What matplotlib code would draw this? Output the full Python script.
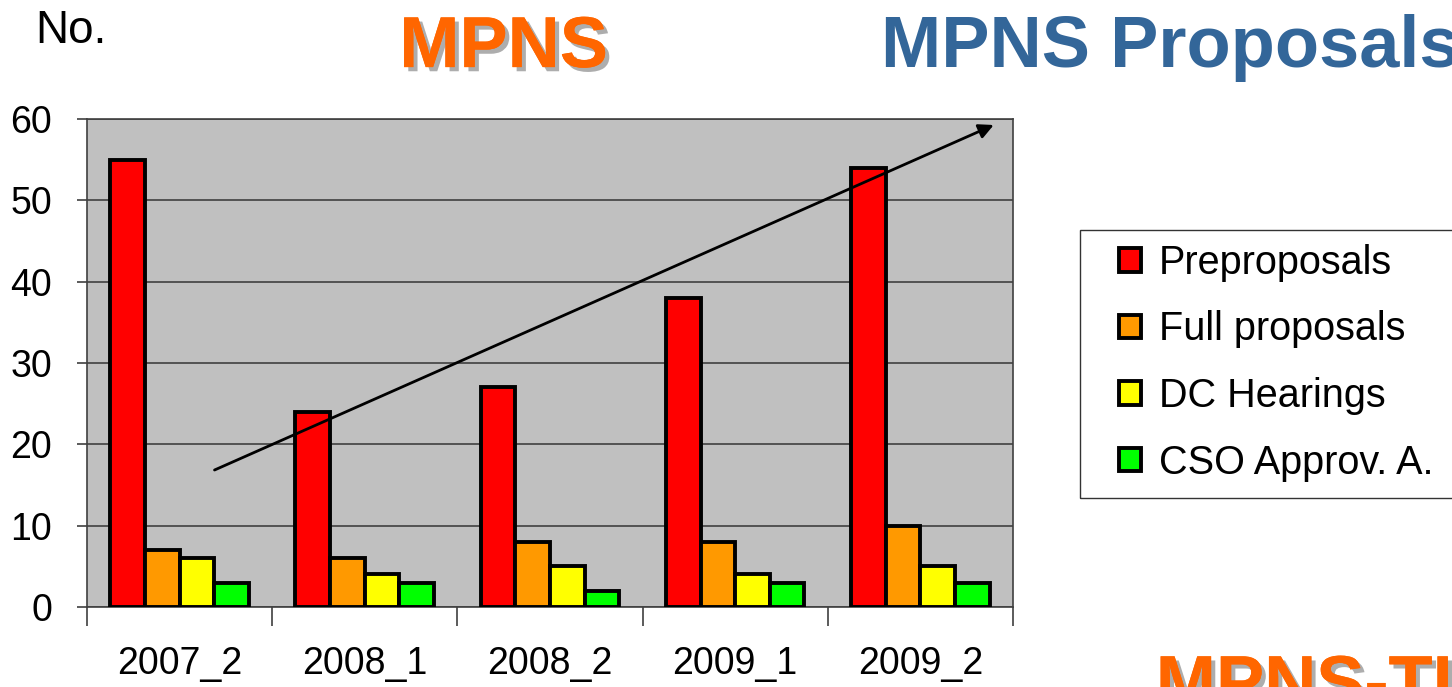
import matplotlib.pyplot as plt
import matplotlib.patheffects as pe
from matplotlib.patches import Rectangle
import numpy as np

plt.rcParams['font.family'] = ['Liberation Sans', 'DejaVu Sans']

# data
periods = ['2007_2', '2008_1', '2008_2', '2009_1', '2009_2']
preproposals = [55, 24, 27, 38, 54]
full_proposals = [7, 6, 8, 8, 10]
dc_hearings = [6, 4, 5, 4, 5]
cso_approv = [3, 3, 2, 3, 3]

series = [
    ('Preproposals', preproposals, '#FF0000'),
    ('Full proposals', full_proposals, '#FF9900'),
    ('DC Hearings', dc_hearings, '#FFFF00'),
    ('CSO Approv. A.', cso_approv, '#00FF00'),
]

# trend arrow (start/end in data coords)
trend_start = (0.175, 16.7)
trend_end = (4.41, 59.4)

fig = plt.figure(figsize=(14.52, 6.87), dpi=100)
ax = fig.add_axes([0.0599, 0.1165, 0.6377, 0.7103])
ax.set_facecolor('#C0C0C0')

x = np.arange(len(periods))
w = 0.187
for i, (name, vals, col) in enumerate(series):
    ax.bar(x + (i - 1.5) * w, vals, w, color=col, edgecolor='black',
           linewidth=2.8, label=name, zorder=3)

ax.set_xlim(-0.5, len(periods) - 0.5)
ax.set_ylim(0, 60)
ax.set_yticks(range(0, 61, 10))
ax.yaxis.grid(True, color='#404040', linewidth=1.2, zorder=1)
ax.tick_params(axis='y', labelsize=27, length=7, width=1.2, pad=18, color='#404040')

# category boundaries as major ticks, labels at centres
ax.set_xticks(np.arange(-0.5, len(periods), 1.0))
ax.set_xticklabels([])
ax.set_xticks(x, minor=True)
ax.set_xticklabels(periods, minor=True, fontsize=27)
ax.tick_params(axis='x', which='major', length=14, width=1.2, color='#404040')
ax.tick_params(axis='x', which='minor', length=0, pad=28)

for s in ax.spines.values():
    s.set_color('#404040')
    s.set_linewidth(1.2)

ax.annotate('', xy=trend_end, xytext=trend_start,
            arrowprops=dict(arrowstyle='-|>', color='black', lw=2,
                            mutation_scale=22), zorder=5)

shadow = [pe.withSimplePatchShadow(offset=(3, -3), shadow_rgbFace='#999999', alpha=0.8),
          pe.Normal()]
fig.text(0.024, 0.955, 'No.', fontsize=33, va='center', ha='left')
fig.text(0.275, 0.93, 'MPNS', fontsize=52, fontweight='bold', color='#FF6600',
         va='center', ha='left', path_effects=shadow)
fig.text(0.607, 0.93, 'MPNS Proposals', fontsize=52, fontweight='bold',
         color='#336699', va='center', ha='left')
fig.text(0.796, 0.0, 'MPNS-TI', fontsize=52, fontweight='bold', color='#FF6600',
         va='center', ha='left', path_effects=shadow)

# legend frame runs past the right edge, as in the original slide
fig.patches.append(Rectangle((1080 / 1452, 1 - 498 / 687), 0.3, (498 - 230) / 687,
                             transform=fig.transFigure, facecolor='none',
                             edgecolor='#333333', linewidth=1.0))
leg = ax.legend(loc='upper left', bbox_to_anchor=(1119 / 1452, 1 - 244 / 687),
                bbox_transform=fig.transFigure, fontsize=28.5, frameon=False,
                handlelength=0.55, handleheight=0.55, labelspacing=0.72,
                borderpad=0.0, handletextpad=0.45, borderaxespad=0)

fig.savefig('out.png', dpi=100)
